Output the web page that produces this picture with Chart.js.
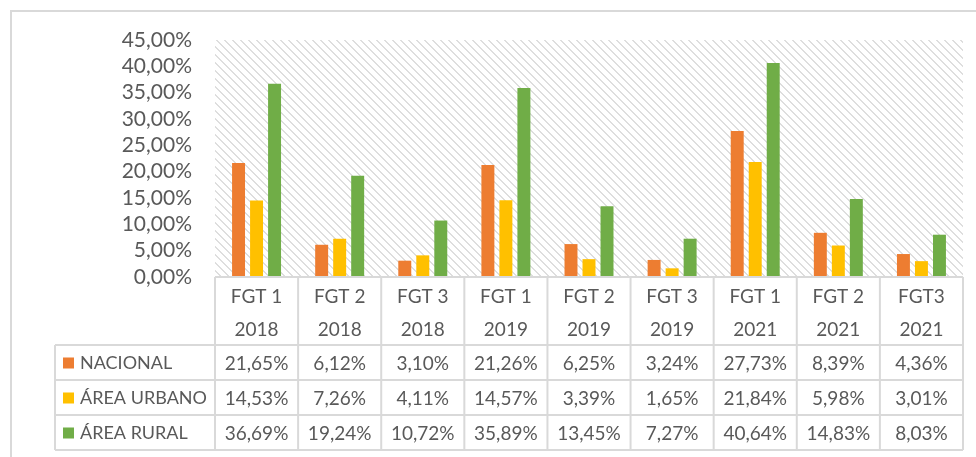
<!DOCTYPE html>
<html>
<head>
<meta charset="utf-8">
<script src="https://cdn.jsdelivr.net/npm/chart.js@4.4.1/dist/chart.umd.min.js"></script>
<style>
    html, body { margin: 0; padding: 0; background: #fff; }
    #js-chart-container { width: 976px; height: 457px; }
</style>
</head>
<body>
<div id="js-chart-container"><canvas id="js-chart" width="976" height="457"></canvas></div>
<script>
var indicators = ["FGT 1", "FGT 2", "FGT 3", "FGT 1", "FGT 2", "FGT 3", "FGT 1", "FGT 2", "FGT3"],
    years = ["2018", "2018", "2018", "2019", "2019", "2019", "2021", "2021", "2021"],
    seriesNames = ["NACIONAL", "ÁREA URBANO", "ÁREA RURAL"],
    nacional = [21.65, 6.12, 3.10, 21.26, 6.25, 3.24, 27.73, 8.39, 4.36],
    areaUrbano = [14.53, 7.26, 4.11, 14.57, 3.39, 1.65, 21.84, 5.98, 3.01],
    areaRural = [36.69, 19.24, 10.72, 35.89, 13.45, 7.27, 40.64, 14.83, 8.03],
    yMax = 45,
    yStep = 5;

var textColor = "#595959",
    lineColor = "#d9d9d9",
    fontFamily = "Lato, 'Noto Sans', sans-serif",
    tableRowHeight = 35,
    legendLeft = 55;

var canvas = document.getElementById("js-chart"),
    ctx = canvas.getContext("2d");

/* Excel style "light downward diagonal" fill for the plot area */
function makeHatch() {
    var c = document.createElement("canvas");
    c.width = 8;
    c.height = 8;
    var g = c.getContext("2d");
    g.fillStyle = "#ffffff";
    g.fillRect(0, 0, 8, 8);
    g.fillStyle = "#dedede";
    for (var i = 0; i < 8; i++) {
        g.fillRect(i, i, 2, 1);
    }
    g.fillRect(0, 7, 1, 1);
    return ctx.createPattern(c, "repeat");
}

function formatPct(v) {
    return v.toFixed(2).replace(".", ",") + "%";
}

var hatch = makeHatch();

var tablePlugin = {
    id: "dataTable",
    beforeDraw: function(chart) {
        var c = chart.ctx, area = chart.chartArea;
        c.save();
        c.fillStyle = "#ffffff";
        c.fillRect(0, 0, chart.width, chart.height);
        // outer frame, only top and left edges show in the crop
        c.fillStyle = lineColor;
        c.fillRect(10, 10, chart.width - 10, 2);
        c.fillRect(10, 10, 2, chart.height - 10);
        c.fillStyle = hatch;
        c.fillRect(area.left, area.top, area.right - area.left, area.bottom - area.top);
        c.restore();
    },
    afterDraw: function(chart) {
        var c = chart.ctx,
            x = chart.scales.x,
            n = x.ticks.length,
            colW = (x.right - x.left) / n,
            headTop = x.top,
            headBottom = x.bottom,
            tableBottom = headBottom + tableRowHeight * chart.data.datasets.length;

        c.save();
        c.strokeStyle = lineColor;
        c.lineWidth = 2;
        c.beginPath();
        c.moveTo(x.left, headTop);
        c.lineTo(x.right, headTop);
        for (var r = 0; r <= chart.data.datasets.length; r++) {
            c.moveTo(legendLeft, headBottom + r * tableRowHeight);
            c.lineTo(x.right, headBottom + r * tableRowHeight);
        }
        for (var i = 0; i <= n; i++) {
            c.moveTo(x.left + i * colW, headTop);
            c.lineTo(x.left + i * colW, tableBottom);
        }
        c.moveTo(legendLeft, headBottom);
        c.lineTo(legendLeft, tableBottom);
        c.stroke();

        c.textBaseline = "middle";
        chart.data.datasets.forEach(function(ds, row) {
            var cy = headBottom + row * tableRowHeight + tableRowHeight / 2 + 1;
            c.fillStyle = ds.backgroundColor;
            c.fillRect(63, cy - 6, 11, 11);
            c.fillStyle = textColor;
            c.textAlign = "left";
            c.font = "18px " + fontFamily;
            c.fillText(ds.label, 80, cy);
            c.textAlign = "center";
            c.font = "19px " + fontFamily;
            ds.data.forEach(function(v, i) {
                c.fillText(formatPct(v), x.getPixelForTick(i), cy);
            });
        });
        c.restore();
    }
};

var labels = indicators.map(function(d, i) { return [d, years[i]]; });

new Chart(ctx, {
    type: "bar",
    data: {
        labels: labels,
        datasets: [
            { label: seriesNames[0], data: nacional, backgroundColor: "#ED7D31" },
            { label: seriesNames[1], data: areaUrbano, backgroundColor: "#FFC000" },
            { label: seriesNames[2], data: areaRural, backgroundColor: "#70AD47" }
        ]
    },
    options: {
        responsive: false,
        animation: false,
        devicePixelRatio: 1,
        layout: { padding: { top: 40, right: 13, bottom: 112, left: 0 } },
        datasets: { bar: { categoryPercentage: 0.65, barPercentage: 0.72 } },
        plugins: {
            legend: { display: false },
            tooltip: { enabled: false }
        },
        scales: {
            x: {
                grid: { display: false, drawTicks: false },
                border: { display: false },
                ticks: {
                    color: textColor,
                    padding: 3,
                    maxRotation: 0,
                    autoSkip: false,
                    font: { family: fontFamily, size: 19, lineHeight: 1.74 }
                },
                afterFit: function(scale) { scale.height = 68; }
            },
            y: {
                min: 0,
                max: yMax,
                grid: { display: false, drawTicks: false },
                border: { display: false },
                ticks: {
                    stepSize: yStep,
                    autoSkip: false,
                    color: textColor,
                    padding: 23,
                    font: { family: fontFamily, size: 21 },
                    callback: function(v) { return formatPct(v); }
                },
                afterFit: function(scale) { scale.width = 215; }
            }
        }
    },
    plugins: [tablePlugin]
});
</script>
</body>
</html>
